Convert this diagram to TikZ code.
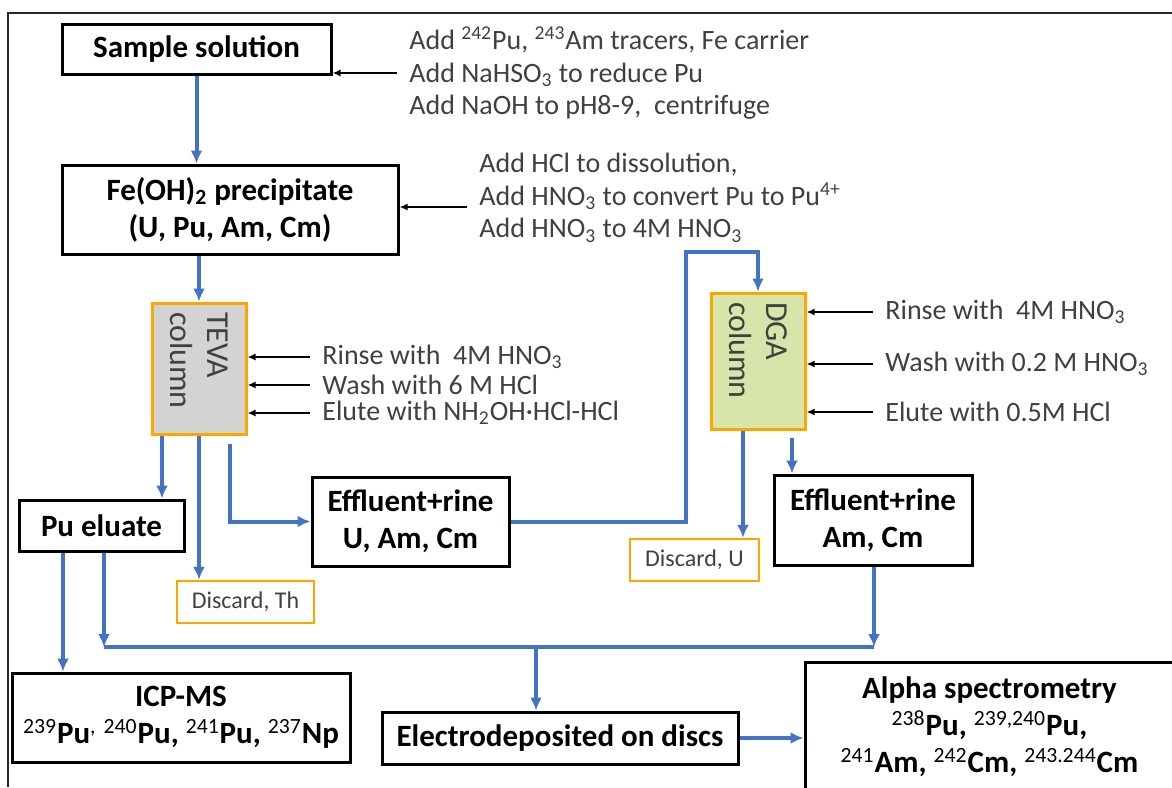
\documentclass[tikz,border=0pt]{standalone}
\usepackage{fontspec}
\setmainfont{Carlito}
\usepackage{tikz}
\usetikzlibrary{arrows.meta, calc}
\definecolor{flowblue}{RGB}{68,114,196}
\definecolor{colorange}{RGB}{255,165,0}
\definecolor{tevagray}{RGB}{211,211,211}
\definecolor{dgagreen}{RGB}{214,230,170}
\definecolor{notegray}{RGB}{64,64,64}
\newcommand{\sups}[1]{\textsuperscript{\normalfont #1}}
\newcommand{\coltext}[2]{\rotatebox{-90}{\begin{minipage}{#1}\raggedright #2\end{minipage}}}
\tikzstyle{stage} = [rectangle, draw, line width=1.5pt, align=center, inner sep=0pt,
    font=\fontsize{15.5}{18.5}\selectfont\bfseries]
\tikzstyle{column} = [rectangle, draw=colorange, line width=1.5pt, inner sep=0pt,
    minimum width=47pt, text=notegray, font=\fontsize{16}{18.5}\selectfont]
\tikzstyle{discard} = [rectangle, draw=colorange, line width=1.2pt, inner sep=0pt,
    text=notegray, font=\fontsize{12}{14}\selectfont]
\tikzstyle{note} = [anchor=west, align=left, inner xsep=6pt, inner ysep=0pt,
    text=notegray, font=\fontsize{14}{16.25}\selectfont]
\tikzstyle{line} = [draw, flowblue, line width=2pt, -{Latex[length=6.5pt, width=6pt]}]
\tikzstyle{bus} = [draw, flowblue, line width=2pt]
\tikzstyle{feed} = [draw, black, line width=0.8pt, -{Latex[length=4pt, width=3.5pt]}]

\begin{document}
\begin{tikzpicture}[x=0.5pt, y=-0.5pt]
                \useasboundingbox (0,0) rectangle (1172,787);
                \draw [line width=1pt, black!85] (8,787) -- (8,13) -- (1172,13);
                \node [stage, minimum width=134.5pt, minimum height=25pt] at (196.5,49) (sample) {Sample solution};
                \node [stage, minimum width=168pt, minimum height=44.5pt] at (230,209.5) (feoh) {Fe(OH)\textsubscript{2} precipitate\\(U, Pu, Am, Cm)};
                \node [column, fill=tevagray, minimum height=65.5pt] at (199,368.5) (teva) {\coltext{56.5pt}{TEVA\\column}};
                \node [stage, minimum width=82.5pt, minimum height=25.5pt] at (101.5,525.5) (pueluate) {Pu eluate};
                \node [discard, minimum width=68.5pt, minimum height=21pt] at (245.5,602) (discth) {Discard, Th};
                \node [stage, minimum width=98.5pt, minimum height=44.5pt] at (410.5,521.5) (effuam) {Effluent+rine\\U, Am, Cm};
                \node [column, fill=dgagreen, minimum height=68pt] at (758,361) (dga) {\coltext{59pt}{DGA\\column}};
                \node [discard, minimum width=64.5pt, minimum height=21pt] at (694.5,560) (discu) {Discard, U};
                \node [stage, minimum width=99pt, minimum height=45pt] at (873,520) (effam) {Effluent+rine\\Am, Cm};
                \node [stage, minimum width=169pt, minimum height=44.5pt] at (181,717.5) (icp) {ICP-MS\\\sups{239}Pu\sups{,} \sups{240}Pu, \sups{241}Pu, \sups{237}Np};
                \node [stage, minimum width=178pt, minimum height=26pt] at (560,738) (electro) {Electrodeposited on discs};
                \node [stage, minimum width=184.5pt, minimum height=65pt] at (989.5,727) (alpha) {Alpha spectrometry\\\sups{238}Pu, \sups{239,240}Pu,\\\sups{241}Am, \sups{242}Cm, \sups{243.244}Cm};

                \node [note] at (397,73) (addtracer) {Add \sups{242}Pu, \sups{243}Am tracers, Fe carrier\\Add NaHSO\textsubscript{3} to reduce Pu\\Add NaOH to pH8-9,~ centrifuge};
                \node [note] at (467,198) (adddissolve) {Add HCl to dissolution,\\Add HNO\textsubscript{3} to convert Pu to Pu\textsuperscript{4+}\\Add HNO\textsubscript{3} to 4M HNO\textsubscript{3}};
                \node [note] at (310,357) (tevarinse) {Rinse with~ 4M HNO\textsubscript{3}};
                \node [note] at (310,385) (tevawash) {Wash with 6 M HCl};
                \node [note] at (310,413) (tevaelute) {Elute with NH\textsubscript{2}OH·HCl-HCl};
                \node [note] at (873,312) (dgarinse) {Rinse with~ 4M HNO\textsubscript{3}};
                \node [note] at (873,364) (dgawash) {Wash with 0.2 M HNO\textsubscript{3}};
                \node [note] at (873,412) (dgaelute) {Elute with 0.5M HCl};

                \coordinate (dissolvein) at ($(adddissolve.west)+(0,9)$);
                \path [feed] (addtracer.west) -- (addtracer.west -| sample.east);
                \path [feed] (dissolvein) -- (dissolvein -| feoh.east);
                \path [feed] (tevarinse.west) -- (tevarinse.west -| teva.east);
                \path [feed] (tevawash.west) -- (tevawash.west -| teva.east);
                \path [feed] (tevaelute.west) -- (tevaelute.west -| teva.east);
                \path [feed] (dgarinse.west) -- (dgarinse.west -| dga.east);
                \path [feed] (dgawash.west) -- (dgawash.west -| dga.east);
                \path [feed] (dgaelute.west) -- (dgaelute.west -| dga.east);

                \coordinate (tevapu) at ($(teva.south)+(-37,0)$);
                \coordinate (tevaeff) at ($(teva.south)+(31,8)$);
                \coordinate (dgau) at ($(dga.south)+(-15,0)$);
                \coordinate (dgaeff) at ($(dga.south)+(34,7)$);
                \coordinate (puicp) at ($(pueluate.south)+(-38.5,0)$);
                \coordinate (busl) at (104,647);
                \coordinate (busr) at (874,647);
                \coordinate (busm) at (536,647);

                \path [line] (sample.south) -- (sample.south |- feoh.north);
                \path [line] (feoh.south -| teva.north) -- (teva.north);
                \path [line] (tevapu) -- (tevapu |- pueluate.north);
                \path [line] (teva.south) -- (teva.south |- discth.north);
                \path [line] (tevaeff) |- (effuam.west);
                \path [line] (effuam.east) -- ++(175,0) |- ($(dga.north)+(0,-40)$) -- (dga.north);
                \path [line] (dgau) -- (dgau |- discu.north);
                \path [line] (dgaeff) -- (dgaeff |- effam.north);
                \path [line] (puicp) -- (puicp |- icp.north);
                \path [line] (pueluate.south -| busl) -- (busl);
                \path [line] (effam.south -| busr) -- (busr);
                \path [bus] (busl) -- (busr);
                \path [line] (busm) -- (busm |- electro.north);
                \path [line] (electro.east) -- (electro.east -| alpha.west);
            \end{tikzpicture}
\end{document}
